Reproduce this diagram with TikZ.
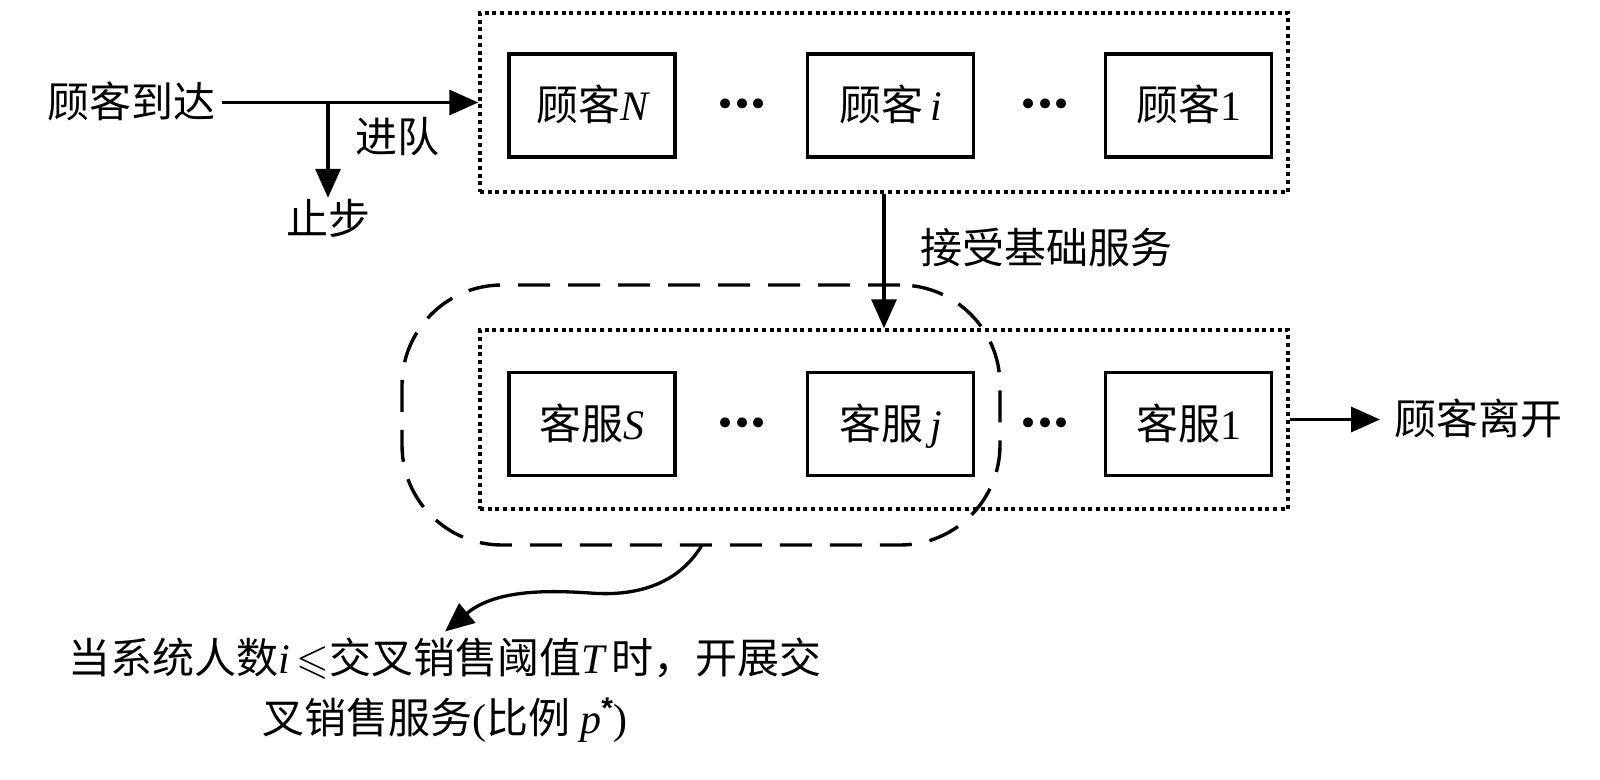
\documentclass[tikz,border=0pt]{standalone}
\usepackage{fontspec}
\usepackage{amssymb}
\setmainfont{Noto Sans CJK SC}
\newfontfamily\tnr{Liberation Serif}
\newfontfamily\djv{DejaVu Sans}
\newfontfamily\lsans{Liberation Sans}
\usetikzlibrary{arrows.meta}
\newcommand\mi[1]{{\tnr\itshape #1}}
\newcommand\mr[1]{{\tnr #1}}
\begin{document}
\begin{tikzpicture}[x=1pt,y=-1pt,
  every node/.style={font=\fontsize{42}{60}\selectfont, inner sep=0pt},
  lbl/.style={text height=36pt, text depth=6pt},
  qbox/.style={draw, dash pattern=on 4pt off 3.7pt, line width=3.5pt, minimum width=808pt, minimum height=179pt},
  ebox/.style={draw, line width=3.4pt, minimum width=166pt, minimum height=103pt, lbl},
  grpbox/.style={draw, dash pattern=on 32pt off 18pt, line width=3.4pt, rounded corners=100pt, minimum width=598pt, minimum height=260pt},
  dotsn/.style={font=\djv\fontsize{34}{34}\selectfont, text height=22pt, text depth=0pt},
  arr/.style={line width=3.3pt, -{Triangle[length=29pt,width=25pt]}},
]
\useasboundingbox (0,0) rectangle (1600,779);
% group of servers (dashed)
\node[grpbox] (grp) at (701,415) {};
% queue and service boxes (dotted)
\node[qbox] (qb) at (884,102.5) {};
\node[qbox] (sb) at (884,419.5) {};
% customers
\node[ebox] (cN) at (592,105.5) {顾客\mi{N}};
\node[ebox] (ci) at (890.5,105.5) {顾客\,\mi{i}};
\node[ebox] (c1) at (1188.5,105.5) {顾客\mr{1}};
\node[dotsn] (d1) at (742,105) {•\kern-3.5pt•\kern-3.5pt•};
\node[dotsn] (d2) at (1045,105) {•\kern-3.5pt•\kern-3.5pt•};
% servers
\node[ebox] (sS) at (592,424) {客服\mi{S}};
\node[ebox] (sj) at (890.5,424) {客服\,\mi{j}};
\node[ebox] (s1) at (1188.5,424) {客服\mr{1}};
\node[dotsn] (d3) at (742,424) {•\kern-3.5pt•\kern-3.5pt•};
\node[dotsn] (d4) at (1045,424) {•\kern-3.5pt•\kern-3.5pt•};
% arrivals
\node[lbl, anchor=east, inner xsep=6pt] (arrive) at (222,102.5) {顾客到达};
\coordinate (br) at (328,102.5);
\node[lbl] (stop) at (328,219) {止步};
\node[lbl] (enq) at (397,137) {进队};
\draw[arr] (arrive.east) -- (qb.west);
\draw[arr] (br) -- (stop);
% basic service
\draw[arr] (qb.south) -- (sb.north);
\node[lbl, anchor=west] (basic) at (920,248) {接受基础服务};
% leaving
\node[lbl, anchor=west, inner xsep=14pt] (leave) at (1380,419.5) {顾客离开};
\draw[arr] (sb.east) -- (leave.west);
% cross-selling
\node[align=center] (txt) at (445,690) {当系统人数\mi{i}\,$\leqslant$交叉销售阈值\mi{T}\,时，开展交\\叉销售服务\mr{(}比例 \mi{p}\raisebox{15pt}{\lsans\bfseries\fontsize{30}{30}\selectfont *}\mr{)}};
\coordinate (cs) at (702,545);
\draw[arr] (cs) .. controls (680,582) and (640,597) .. (590,593) .. controls (545,590) and (495,590) .. ([yshift=6pt]txt.north);
\end{tikzpicture}
\end{document}
